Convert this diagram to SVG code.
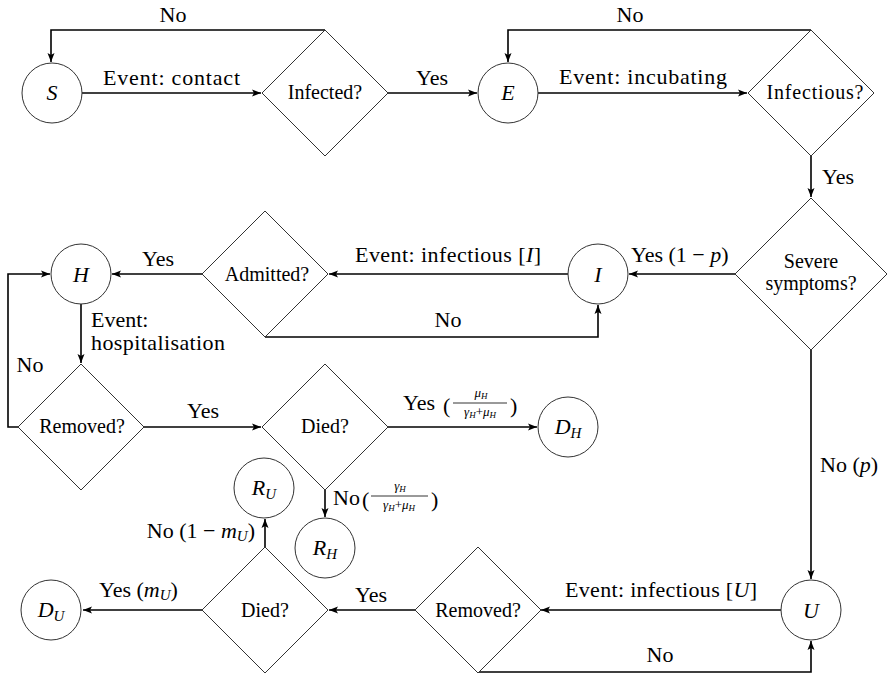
<svg xmlns="http://www.w3.org/2000/svg" width="887" height="675" viewBox="0 0 887 675">
<style>
.dgn{fill:#fff;stroke:#333;stroke-width:1}
.dgc{fill:none;stroke:#000;stroke-width:1.6;marker-end:url(#ah)}
.dgl{font-size:22px}
.dgd{font-size:20px;text-anchor:middle}
.dgv{font-size:22px;font-style:italic;text-anchor:middle}
.dgi{font-style:italic}
.dgs{font-size:15px}
.dgf{font-size:13px;font-style:italic;text-anchor:middle}
.dgfs{font-size:9px}
.dgm{text-anchor:middle}
</style>
<defs>
<marker id="ah" markerUnits="userSpaceOnUse" markerWidth="10" markerHeight="8" refX="9" refY="4" orient="auto">
<path d="M0,0.5 L9,4 L0,7.5 L2,4 z" fill="#000"/>
</marker>
</defs>
<g id="connectors">
<path class="dgc" d="M82,93 H261"/>
<path class="dgc" d="M325,30 H51 V62"/>
<path class="dgc" d="M388,93 H477"/>
<path class="dgc" d="M811,30 H508 V62"/>
<path class="dgc" d="M538,93 H747"/>
<path class="dgc" d="M811,156 V197"/>
<path class="dgc" d="M735,274 H629"/>
<path class="dgc" d="M568,274 H329"/>
<path class="dgc" d="M265,337 H598 V305"/>
<path class="dgc" d="M202,274 H112"/>
<path class="dgc" d="M81,304 V363"/>
<path class="dgc" d="M18,427 H8 V274 H50"/>
<path class="dgc" d="M144,427 H261"/>
<path class="dgc" d="M388,427 H537"/>
<path class="dgc" d="M325,490 V517"/>
<path class="dgc" d="M811,350 V579"/>
<path class="dgc" d="M781,610 H541"/>
<path class="dgc" d="M478,672 H811 V641"/>
<path class="dgc" d="M415,610 H329"/>
<path class="dgc" d="M202,610 H83"/>
<path class="dgc" d="M265,547 V519"/>
<text style="font-family:'Liberation Serif',serif !important" class="dgl dgm" x="173" y="22">No</text>
<text style="font-family:'Liberation Serif',serif !important" class="dgl" x="103" y="85" textLength="137">Event: contact</text>
<text style="font-family:'Liberation Serif',serif !important" class="dgl dgm" x="432" y="85">Yes</text>
<text style="font-family:'Liberation Serif',serif !important" class="dgl dgm" x="630" y="22">No</text>
<text style="font-family:'Liberation Serif',serif !important" class="dgl" x="559" y="84" textLength="168">Event: incubating</text>
<text style="font-family:'Liberation Serif',serif !important" class="dgl" x="822" y="184">Yes</text>
<text style="font-family:'Liberation Serif',serif !important" class="dgl" x="631" y="262">Yes (1 − <tspan class="dgi">p</tspan>)</text>
<text style="font-family:'Liberation Serif',serif !important" class="dgl" x="355" y="262" textLength="186">Event: infectious [<tspan class="dgi">I</tspan>]</text>
<text style="font-family:'Liberation Serif',serif !important" class="dgl dgm" x="448" y="327">No</text>
<text style="font-family:'Liberation Serif',serif !important" class="dgl dgm" x="158" y="266">Yes</text>
<text style="font-family:'Liberation Serif',serif !important" class="dgl" x="91" y="327">Event:</text>
<text style="font-family:'Liberation Serif',serif !important" class="dgl" x="91" y="350" textLength="134">hospitalisation</text>
<text style="font-family:'Liberation Serif',serif !important" class="dgl dgm" x="30" y="372">No</text>
<text style="font-family:'Liberation Serif',serif !important" class="dgl dgm" x="203" y="418">Yes</text>
<text style="font-family:'Liberation Serif',serif !important" class="dgl" x="403" y="410">Yes</text>
<text style="font-family:'Liberation Serif',serif !important" class="dgl" x="443" y="413" font-size="24">(</text>
<text style="font-family:'Liberation Serif',serif !important" class="dgf" x="481" y="397">μ<tspan class="dgfs" dy="2">H</tspan></text>
<line x1="453" y1="403" x2="507" y2="403" stroke="#000" stroke-width="0.8"/>
<text style="font-family:'Liberation Serif',serif !important" class="dgf" x="480" y="416">γ<tspan class="dgfs" dy="2">H</tspan><tspan dy="-2" font-style="normal">+</tspan>μ<tspan class="dgfs" dy="2">H</tspan></text>
<text style="font-family:'Liberation Serif',serif !important" class="dgl" x="510" y="413" font-size="24">)</text>
<text style="font-family:'Liberation Serif',serif !important" class="dgl" x="333" y="505">No</text>
<text style="font-family:'Liberation Serif',serif !important" class="dgl" x="362" y="507" font-size="24">(</text>
<text style="font-family:'Liberation Serif',serif !important" class="dgf" x="400" y="490">γ<tspan class="dgfs" dy="2">H</tspan></text>
<line x1="371" y1="496" x2="428" y2="496" stroke="#000" stroke-width="0.8"/>
<text style="font-family:'Liberation Serif',serif !important" class="dgf" x="399" y="509">γ<tspan class="dgfs" dy="2">H</tspan><tspan dy="-2" font-style="normal">+</tspan>μ<tspan class="dgfs" dy="2">H</tspan></text>
<text style="font-family:'Liberation Serif',serif !important" class="dgl" x="431" y="507" font-size="24">)</text>
<text style="font-family:'Liberation Serif',serif !important" class="dgl" x="255" y="538" text-anchor="end">No (1 − <tspan class="dgi">m</tspan><tspan class="dgs dgi" dy="3">U</tspan><tspan dy="-3">)</tspan></text>
<text style="font-family:'Liberation Serif',serif !important" class="dgl" x="99" y="597">Yes (<tspan class="dgi">m</tspan><tspan class="dgs dgi" dy="3">U</tspan><tspan dy="-3">)</tspan></text>
<text style="font-family:'Liberation Serif',serif !important" class="dgl dgm" x="371" y="602">Yes</text>
<text style="font-family:'Liberation Serif',serif !important" class="dgl" x="565" y="597" textLength="192">Event: infectious [<tspan class="dgi">U</tspan>]</text>
<text style="font-family:'Liberation Serif',serif !important" class="dgl dgm" x="660" y="662">No</text>
<text style="font-family:'Liberation Serif',serif !important" class="dgl" x="820" y="472">No (<tspan class="dgi">p</tspan>)</text>
</g>
<g id="S"><circle class="dgn" cx="52" cy="93" r="30"/><text style="font-family:'Liberation Serif',serif !important" class="dgv" x="52" y="100">S</text></g>
<g id="infected"><polygon class="dgn" points="325,30 388,93 325,156 262,93"/><text style="font-family:'Liberation Serif',serif !important" class="dgd" x="325" y="99">Infected?</text></g>
<g id="E"><circle class="dgn" cx="508" cy="93" r="30"/><text style="font-family:'Liberation Serif',serif !important" class="dgv" x="508" y="100">E</text></g>
<g id="infectious"><polygon class="dgn" points="811,30 874,93 811,156 748,93"/><text style="font-family:'Liberation Serif',serif !important" class="dgd" x="815" y="99" textLength="97">Infectious?</text></g>
<g id="severe"><polygon class="dgn" points="811,198 887,274 811,350 735,274"/><text style="font-family:'Liberation Serif',serif !important" class="dgd" x="811" y="268">Severe</text><text style="font-family:'Liberation Serif',serif !important" class="dgd" x="811" y="290">symptoms?</text></g>
<g id="I"><circle class="dgn" cx="598" cy="274" r="30"/><text style="font-family:'Liberation Serif',serif !important" class="dgv" x="598" y="282">I</text></g>
<g id="admitted"><polygon class="dgn" points="265,211 328,274 265,337 202,274"/><text style="font-family:'Liberation Serif',serif !important" class="dgd" x="267" y="281">Admitted?</text></g>
<g id="H"><circle class="dgn" cx="81" cy="274" r="30"/><text style="font-family:'Liberation Serif',serif !important" class="dgv" x="81" y="282">H</text></g>
<g id="removedH"><polygon class="dgn" points="81,364 144,427 81,490 18,427"/><text style="font-family:'Liberation Serif',serif !important" class="dgd" x="82" y="433">Removed?</text></g>
<g id="diedH"><polygon class="dgn" points="325,364 388,427 325,490 262,427"/><text style="font-family:'Liberation Serif',serif !important" class="dgd" x="325" y="433">Died?</text></g>
<g id="DH"><circle class="dgn" cx="568" cy="427" r="30"/><text style="font-family:'Liberation Serif',serif !important" class="dgv" x="568" y="434">D<tspan class="dgs" dy="4">H</tspan></text></g>
<g id="RH"><circle class="dgn" cx="325" cy="548" r="30"/><text style="font-family:'Liberation Serif',serif !important" class="dgv" x="325" y="555">R<tspan class="dgs" dy="4">H</tspan></text></g>
<g id="RU"><circle class="dgn" cx="264" cy="488" r="30"/><text style="font-family:'Liberation Serif',serif !important" class="dgv" x="264" y="495">R<tspan class="dgs" dy="4">U</tspan></text></g>
<g id="diedU"><polygon class="dgn" points="265,547 328,610 265,673 202,610"/><text style="font-family:'Liberation Serif',serif !important" class="dgd" x="265" y="617">Died?</text></g>
<g id="DU"><circle class="dgn" cx="51" cy="610" r="30"/><text style="font-family:'Liberation Serif',serif !important" class="dgv" x="51" y="617">D<tspan class="dgs" dy="4">U</tspan></text></g>
<g id="removedU"><polygon class="dgn" points="478,547 541,610 478,673 415,610"/><text style="font-family:'Liberation Serif',serif !important" class="dgd" x="478" y="617">Removed?</text></g>
<g id="U"><circle class="dgn" cx="811" cy="610" r="30"/><text style="font-family:'Liberation Serif',serif !important" class="dgv" x="811" y="618">U</text></g>
</svg>
